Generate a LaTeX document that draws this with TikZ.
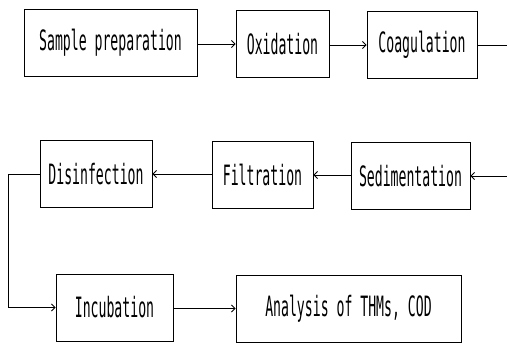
\documentclass[tikz,border=0pt]{standalone}
\usepackage{fontspec}
\usetikzlibrary{arrows.meta}
\newfontfamily\boxfont[FakeStretch=0.47]{DejaVu Sans Mono}
\begin{document}
\begin{tikzpicture}[x=1pt,y=-1pt,
  box/.style={draw,line width=0.9pt,inner sep=0pt,minimum height=67pt,
    font=\boxfont\fontsize{28}{30}\selectfont},
  conn/.style={line width=0.9pt},
  flow/.style={conn,-{Straight Barb[length=3.5pt,width=7pt]}}]
\useasboundingbox (0,0) rectangle (507,343);
\node[box,minimum width=173pt] (sample) at (110.5,43) {Sample preparation};
\node[box,minimum width=93pt] (oxid) at (282.5,44) {Oxidation};
\node[box,minimum width=110pt] (coag) at (422,45) {Coagulation};
\node[box,minimum width=112pt] (disinf) at (96,174) {Disinfection};
\node[box,minimum width=101pt] (filt) at (262.5,175) {Filtration};
\node[box,minimum width=119pt] (sed) at (410.5,176) {Sedimentation};
\node[box,minimum width=117pt] (incub) at (114.5,307.5) {Incubation};
\node[box,minimum width=225pt] (anal) at (348.5,308.5) {Analysis of THMs, COD};
\coordinate (outR) at (507,45);
\coordinate (inR) at (507,176);
\coordinate (bend) at (8,174);
\draw[flow] (sample.east |- oxid.west) -- (oxid.west);
\draw[flow] (oxid.east |- coag.west) -- (coag.west);
\draw[conn] (coag.east) -- (outR);
\draw[flow] (inR) -- (sed.east);
\draw[flow] (sed.west |- filt.east) -- (filt.east);
\draw[flow] (filt.west |- disinf.east) -- (disinf.east);
\draw[flow] (disinf.west) -- (bend) |- (incub.west);
\draw[flow] (incub.east |- anal.west) -- (anal.west);
\end{tikzpicture}
\end{document}
